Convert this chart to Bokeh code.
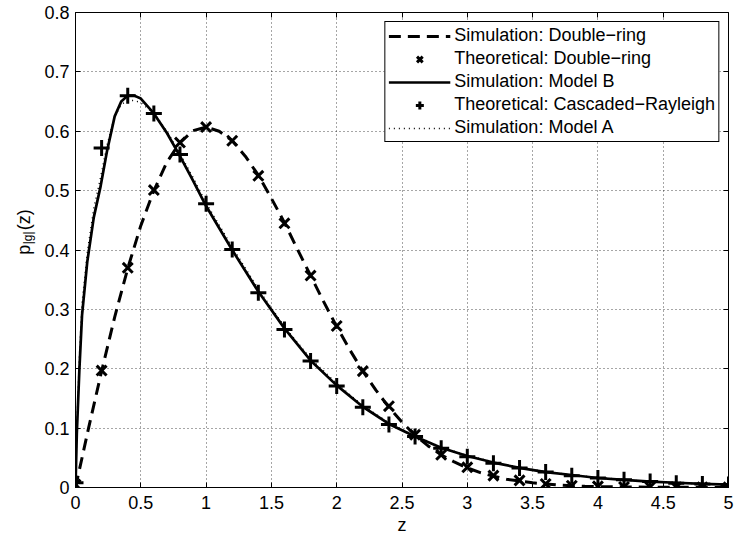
import math
from bokeh.plotting import figure
from bokeh.layouts import row
from bokeh.core.properties import value
from bokeh.models import (Legend, LegendItem, LinearAxis, FixedTicker,
                          NumeralTickFormatter, Range1d)
from bokeh.embed import file_html
from bokeh.resources import INLINE

# ---------------- data ----------------
z_theory = [0.0, 0.2, 0.4, 0.6, 0.8, 1.0, 1.2, 1.4, 1.6, 1.8, 2.0, 2.2, 2.4,
            2.6, 2.8, 3.0, 3.2, 3.4, 3.6, 3.8, 4.0, 4.2, 4.4, 4.6, 4.8, 5.0]
theory_double_ring = [0.005, 0.197, 0.370, 0.501, 0.581, 0.607, 0.584, 0.525,
                      0.445, 0.357, 0.272, 0.196, 0.137, 0.089, 0.055, 0.034,
                      0.020, 0.012, 0.006, 0.003, 0.002, 0.001, 0.001, 0.0005,
                      0.0003, 0.0002]
theory_cascaded = [0.008, 0.572, 0.660, 0.630, 0.561, 0.478, 0.401, 0.328,
                   0.266, 0.213, 0.171, 0.135, 0.106, 0.086, 0.066, 0.052,
                   0.041, 0.033, 0.026, 0.020, 0.016, 0.013, 0.010, 0.007,
                   0.006, 0.005]

z_sim_dr = [0.0, 0.1, 0.2, 0.3, 0.4, 0.5, 0.6, 0.7, 0.8, 0.9, 1.0, 1.1, 1.2,
            1.3, 1.4, 1.5, 1.6, 1.7, 1.8, 1.9, 2.0, 2.1, 2.2, 2.3, 2.4, 2.5,
            2.6, 2.7, 2.8, 2.9, 3.0, 3.1, 3.2, 3.3, 3.4, 3.5, 3.6, 3.7, 3.8,
            3.9, 4.0, 4.2, 4.4, 4.6, 4.8, 5.0]
sim_double_ring = [0.0, 0.100, 0.196, 0.287, 0.369, 0.441, 0.500, 0.548, 0.581,
                   0.601, 0.607, 0.600, 0.584, 0.558, 0.526, 0.487, 0.446,
                   0.401, 0.357, 0.313, 0.271, 0.232, 0.196, 0.164, 0.135,
                   0.110, 0.088, 0.070, 0.055, 0.043, 0.033, 0.025, 0.019,
                   0.014, 0.011, 0.008, 0.006, 0.004, 0.003, 0.002, 0.0015,
                   0.001, 0.0006, 0.0004, 0.0002, 0.0001]

z_sim_model = [0.0, 0.01, 0.03, 0.05, 0.09, 0.14, 0.19, 0.24, 0.30, 0.35, 0.40,
               0.45, 0.50, 0.60, 0.70, 0.80, 0.90, 1.0, 1.2, 1.4, 1.6, 1.8,
               2.0, 2.2, 2.4, 2.6, 2.8, 3.0, 3.2, 3.4, 3.6, 3.8, 4.0, 4.2,
               4.4, 4.6, 4.8, 5.0]
sim_model_b = [0.0, 0.09, 0.20, 0.29, 0.38, 0.455, 0.505, 0.565, 0.625, 0.650,
               0.660, 0.660, 0.655, 0.630, 0.597, 0.558, 0.517, 0.474, 0.400,
               0.330, 0.268, 0.214, 0.172, 0.136, 0.107, 0.086, 0.067, 0.053,
               0.042, 0.033, 0.026, 0.021, 0.016, 0.013, 0.010, 0.008, 0.006,
               0.005]
sim_model_a = [0.0, 0.10, 0.22, 0.31, 0.395, 0.47, 0.52, 0.575, 0.625, 0.645,
               0.652, 0.652, 0.648, 0.630, 0.600, 0.562, 0.522, 0.479, 0.405,
               0.334, 0.271, 0.217, 0.175, 0.138, 0.109, 0.087, 0.068, 0.054,
               0.043, 0.034, 0.027, 0.021, 0.017, 0.013, 0.010, 0.008, 0.006,
               0.005]

x_ticks = [0, 0.5, 1, 1.5, 2, 2.5, 3, 3.5, 4, 4.5, 5]
y_ticks = [0, 0.1, 0.2, 0.3, 0.4, 0.5, 0.6, 0.7, 0.8]

legend_labels = ["Simulation: Double\u2212ring", "Theoretical: Double\u2212ring",
                 "Simulation: Model B", "Theoretical: Cascaded\u2212Rayleigh",
                 "Simulation: Model A"]
ylabel_parts = ["p", "|g|", "(z)"]

FONT = "Liberation Sans"
LEFT_W = 36
W, H = 735, 539

# ---------------- left strip holding the y-axis label ----------------
lab = figure(width=LEFT_W, height=H, output_backend="svg", toolbar_location=None,
             x_range=Range1d(0, LEFT_W), y_range=Range1d(0, H),
             min_border=0, min_border_left=0, min_border_right=0,
             min_border_top=0, min_border_bottom=0)
lab.axis.visible = False
lab.grid.visible = False
lab.outline_line_color = None
lab.background_fill_color = "white"
lab.border_fill_color = "white"
for txt, xs, ys, fs in ((ylabel_parts[0], 23.5, H - 275, "18px"),
                        (ylabel_parts[1], 27.5, H - 263, "12px"),
                        (ylabel_parts[2], 23.5, H - 247, "18px")):
    lab.text(x=[xs], y=[ys], text=[txt], angle=math.pi / 2,
             text_font=value(FONT), text_font_size=value(fs),
             text_color="black", text_baseline="alphabetic", text_align="left")

# ---------------- main figure ----------------
p = figure(width=W - LEFT_W, height=H, output_backend="svg",
           toolbar_location=None,
           x_range=Range1d(0, 5), y_range=Range1d(0, 0.8),
           min_border_left=75 - LEFT_W, min_border_right=7, min_border_top=12,
           min_border_bottom=52)
p.background_fill_color = "white"
p.border_fill_color = "white"
p.outline_line_color = "black"
p.outline_line_alpha = 1.0
p.outline_line_width = 1

xt = FixedTicker(ticks=x_ticks)
yt = FixedTicker(ticks=y_ticks)


def style_axis(ax, ticker, show_labels=True):
    ax.ticker = ticker
    ax.formatter = NumeralTickFormatter(format="0.[0]")
    ax.major_tick_in = 5
    ax.major_tick_out = 0
    ax.minor_tick_line_color = None
    ax.major_tick_line_color = "black"
    ax.axis_line_color = "black"
    ax.major_label_text_font = FONT
    ax.major_label_text_color = "black"
    if show_labels:
        ax.major_label_text_font_size = "18px"
    else:
        ax.major_label_text_font_size = "1px"
        ax.major_label_text_color = None
        ax.major_label_standoff = 0
        ax.axis_line_color = None


style_axis(p.xaxis[0], xt)
style_axis(p.yaxis[0], yt)
p.xaxis[0].major_label_standoff = 8
p.yaxis[0].major_label_standoff = 6
p.xaxis[0].axis_label = "z"
p.xaxis[0].axis_label_text_font = FONT
p.xaxis[0].axis_label_text_font_size = "18px"
p.xaxis[0].axis_label_text_font_style = "normal"
p.xaxis[0].axis_label_text_color = "black"
p.xaxis[0].axis_label_standoff = 3

ax_top = LinearAxis()
style_axis(ax_top, xt, show_labels=False)
p.add_layout(ax_top, "above")
ax_right = LinearAxis()
style_axis(ax_right, yt, show_labels=False)
p.add_layout(ax_right, "right")

for g, t in ((p.xgrid[0], xt), (p.ygrid[0], yt)):
    g.ticker = t
    g.grid_line_color = "black"
    g.grid_line_alpha = 0.7
    g.grid_line_dash = "1 3"
    g.grid_line_width = 1

# ---------------- series ----------------
r_a = p.line(z_sim_model, sim_model_a, line_color="black", line_width=1.5,
             line_dash="1 4")
r_dash = p.line(z_sim_dr, sim_double_ring, line_color="black", line_width=3,
                line_dash="12 7")
r_b = p.line(z_sim_model, sim_model_b, line_color="black", line_width=2.7)
r_x = p.scatter(z_theory, theory_double_ring, marker="x", size=14,
                line_width=3, line_color="black")
r_plus = p.scatter(z_theory, theory_cascaded, marker="cross", size=16,
                   line_width=3, line_color="black")

legend = Legend(items=[
    LegendItem(label=legend_labels[0], renderers=[r_dash]),
    LegendItem(label=legend_labels[1], renderers=[r_x]),
    LegendItem(label=legend_labels[2], renderers=[r_b]),
    LegendItem(label=legend_labels[3], renderers=[r_plus]),
    LegendItem(label=legend_labels[4], renderers=[r_a]),
], location="top_right")
legend.margin = 9
legend.padding = 3
legend.spacing = 2
legend.label_height = 20
legend.glyph_height = 20
legend.glyph_width = 62
legend.label_standoff = 4
legend.label_text_font = FONT
legend.label_text_font_size = "18px"
legend.label_text_color = "black"
legend.border_line_color = "black"
legend.border_line_width = 1
legend.border_line_alpha = 1
legend.background_fill_color = "white"
legend.background_fill_alpha = 1
p.add_layout(legend)

layout = row(lab, p, spacing=0)
open("out.html", "w").write(file_html(layout, INLINE))
